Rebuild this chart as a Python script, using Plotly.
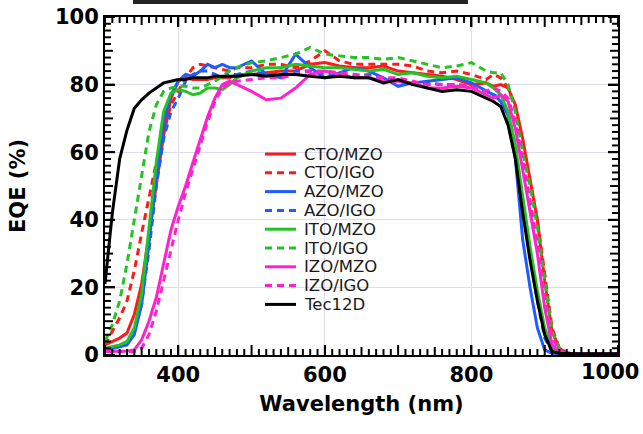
import plotly.graph_objects as go

wavelength = [300, 310, 320, 330, 340, 350, 360, 370, 380, 390, 400, 410, 420, 430, 440, 450, 460, 470, 480,
              500, 520, 540, 560, 580, 600, 620, 640, 660, 680, 700, 720, 740, 760, 780, 800, 820,
              830, 840, 850, 860, 870, 880, 890, 900, 910, 920, 930, 940,
              960, 980, 1000]

cto_mzo = [3, 4, 5, 6.5, 12, 21, 36, 51, 65, 76, 81, 82, 81.5, 81.5, 81.5, 82, 82, 82, 83,
           83, 83.5, 84, 84, 86, 86.5, 85.5, 85, 85, 85.5, 84, 83.5, 83, 82.5, 81.5, 80, 80.5,
           79.5, 80, 79, 74, 64, 52, 40, 22, 7, 2, 0.6, 0.4,
           0.4, 0.4, 0.4]
cto_igo = [3, 7, 11, 16, 25, 36, 47, 57, 66, 74, 78, 82, 85, 86, 85.5, 85, 84.5, 84, 85,
           85, 86, 86, 85, 87, 90, 87, 86, 86, 86, 86, 85.5, 84, 83.5, 84, 83, 81.5,
           83, 82, 79, 73, 62, 51, 40, 24, 8, 2, 0.7, 0.4,
           0.4, 0.4, 0.4]
azo_mzo = [1.5, 2, 2.5, 3, 6, 15, 33, 53, 69, 77, 81, 83, 82.5, 84, 86, 85, 86, 85, 85,
           87, 83, 82, 89, 85, 82, 83.5, 85, 84, 82, 79.5, 80.5, 81, 81.5, 82, 80.5, 78,
           77, 75, 71, 58, 34, 20, 8, 1.5, 0.5, 0.4, 0.4, 0.4,
           0.4, 0.4, 0.4]
azo_igo = [1.5, 2, 2.5, 3.5, 7, 15, 31, 50, 64, 72, 76, 81, 83, 84, 84, 83, 82, 83, 83,
           84, 83, 83, 84, 84, 83, 83, 82.5, 83, 82, 81, 80, 80.5, 80, 80, 79.5, 78,
           77, 76, 72, 62, 45, 29, 16, 5, 1, 0.4, 0.4, 0.4,
           0.4, 0.4, 0.4]
ito_mzo = [2, 2.5, 3, 4, 8, 18, 37, 57, 72, 77.5, 78.5, 78, 77, 77.5, 79, 79, 78.5, 80, 82,
           84, 85, 85, 86, 85.5, 85, 85, 84.5, 84, 84.5, 83, 83.5, 82.5, 82, 82.5, 81.5, 80.5,
           79, 77, 72, 62, 47, 32, 19, 8, 2, 0.5, 0.4, 0.4,
           0.4, 0.4, 0.4]
ito_igo = [4, 9, 16, 27, 40, 53, 66, 74, 78, 79, 79.5, 79.5, 79, 79, 80, 81, 82.5, 84, 85,
           86.5, 87, 88, 89, 91, 89, 88.5, 88, 88, 87.5, 88, 87, 86, 85, 85.5, 86.5, 84,
           83.5, 83.5, 80, 72, 60, 50, 38, 22, 7, 2, 0.5, 0.4,
           0.4, 0.4, 0.4]
izo_mzo = [1, 1, 1, 1.2, 1.5, 4.5, 10, 17, 27, 37, 44, 50, 57, 64, 70.5, 76, 80, 81, 80,
           78, 75.5, 76, 79, 83, 84, 83, 82, 82, 81, 81, 80.5, 79, 79, 79.5, 79, 77,
           76, 77, 75, 67, 55, 43, 30, 14, 3, 1, 0.4, 0.4,
           0.4, 0.4, 0.4]
izo_igo = [1, 1, 1, 1, 1, 2, 6, 13, 22, 31, 40, 48, 55, 62, 69, 75, 79, 80.5, 81,
           81.5, 82, 82, 83, 84, 84, 83.5, 83, 82.5, 82, 82, 81, 80, 80, 80, 79.5, 78,
           79, 78, 76, 69, 58, 46, 33, 17, 5, 1.5, 0.5, 0.4,
           0.4, 0.4, 0.4]
tec12d = [21, 42, 58, 66.5, 73, 75.5, 77.5, 79, 80.5, 81, 81.5, 81.5, 82, 82, 82, 82.5, 82.5, 82.5, 82.5,
          83, 82.5, 83, 83, 82.5, 82, 82.5, 82, 82, 80.5, 81.5, 80, 79, 78, 78.5, 78, 76,
          75, 73.5, 68, 58, 42, 28, 16, 6, 1, 0.5, 0.4, 0.4,
          0.4, 0.4, 0.4]

names = ["CTO/MZO", "CTO/IGO", "AZO/MZO", "AZO/IGO", "ITO/MZO", "ITO/IGO", "IZO/MZO", "IZO/IGO", "Tec12D"]
series = [cto_mzo, cto_igo, azo_mzo, azo_igo, ito_mzo, ito_igo, izo_mzo, izo_igo, tec12d]

X_RANGE = [300, 1000]
Y_RANGE = [0, 100]
x_major = dict(tick0=400, dtick=200)   # labels 400, 600, 800, 1000
y_major = dict(tick0=0, dtick=20)
x_minor_ticks = list(range(300, 1001, 10))
y_minor_ticks = list(range(0, 101, 2))
last_x_label = "1000"

RED, BLUE, GREEN, MAG = "#ff1a1a", "#1f5cff", "#22c322", "#ff22cc"
colors = [RED, RED, BLUE, BLUE, GREEN, GREEN, MAG, MAG, "#000000"]
DASH = "7px,5px"
dashes = ["solid", DASH, "solid", DASH, "solid", DASH, "solid", DASH, "solid"]

W, H = 643, 434
L, R, T, B = 105, 618, 17, 355

fig = go.Figure()
for name, ys, c, d in zip(names, series, colors, dashes):
    fig.add_trace(go.Scatter(x=wavelength, y=ys, mode="lines", name=name,
                             line=dict(color=c, width=3, dash=d), showlegend=False))

def px(xp):
    return (xp - L) / (R - L)

def py(yp):
    return (B - yp) / (B - T)

shapes = []
annotations = []

# inside tick marks on all four sides, as shapes (lengths in pixels -> paper fractions)
tick_line = dict(color="black", width=2)
for v in x_minor_ticks:
    ln = 10 if v % 100 == 0 else (8 if v % 50 == 0 else 6)
    f = ln / (B - T)
    shapes.append(dict(type="line", xref="x", yref="paper", x0=v, x1=v, y0=0, y1=f, line=tick_line, layer="above"))
    shapes.append(dict(type="line", xref="x", yref="paper", x0=v, x1=v, y0=1, y1=1 - f, line=tick_line, layer="above"))
for v in y_minor_ticks:
    ln = 10 if v % 20 == 0 else (8 if v % 10 == 0 else 6)
    f = ln / (R - L)
    shapes.append(dict(type="line", xref="paper", yref="y", x0=0, x1=f, y0=v, y1=v, line=tick_line, layer="above"))
    shapes.append(dict(type="line", xref="paper", yref="y", x0=1, x1=1 - f, y0=v, y1=v, line=tick_line, layer="above"))

for i, (name, c, d) in enumerate(zip(names, colors, dashes)):
    yc = 154 + i * 18.8
    shapes.append(dict(type="line", xref="paper", yref="paper",
                       x0=px(265), x1=px(296), y0=py(yc), y1=py(yc),
                       line=dict(color=c, width=3, dash=d)))
    annotations.append(dict(xref="paper", yref="paper", x=px(302), y=py(yc),
                            text=name, showarrow=False, xanchor="left", yanchor="middle",
                            font=dict(family="DejaVu Sans", size=16.5, color="#1a1a1a")))

tickfont = dict(family="DejaVu Sans", size=21, color="black", weight="bold")
titlefont = dict(family="DejaVu Sans", size=21, color="black", weight="bold")

# the right-most x tick label sits slightly inside the picture edge
annotations.append(dict(xref="paper", yref="paper", x=1, y=0, xanchor="right", yanchor="top",
                        xshift=W - R - 2, yshift=-3, text=last_x_label, showarrow=False,
                        font=tickfont))

# black bar at top of the image
shapes.append(dict(type="rect", xref="paper", yref="paper",
                   x0=px(133), x1=px(468), y0=py(0), y1=py(4),
                   fillcolor="#222222", line=dict(width=0), layer="above", opacity=1))

fig.update_layout(
    width=W, height=H,
    margin=dict(l=L, r=W - R, t=T, b=H - B, autoexpand=False),
    paper_bgcolor="white", plot_bgcolor="white",
    shapes=shapes, annotations=annotations,
    showlegend=False,
)
common = dict(ticks="inside", ticklen=10, tickwidth=2, tickcolor="black",
              showline=True, linewidth=2, linecolor="black", mirror="ticks",
              showgrid=True, gridcolor="#dcdcf2", gridwidth=1, zeroline=False,
              tickfont=tickfont)
fig.update_xaxes(range=X_RANGE, tickmode="linear", **x_major, **common,
                 title=dict(text="Wavelength (nm)", font=titlefont, standoff=10))
fig.update_yaxes(range=Y_RANGE, tickmode="linear", **y_major, **common,
                 title=dict(text="EQE (%)", font=titlefont, standoff=24))

fig.write_html("out.html")
